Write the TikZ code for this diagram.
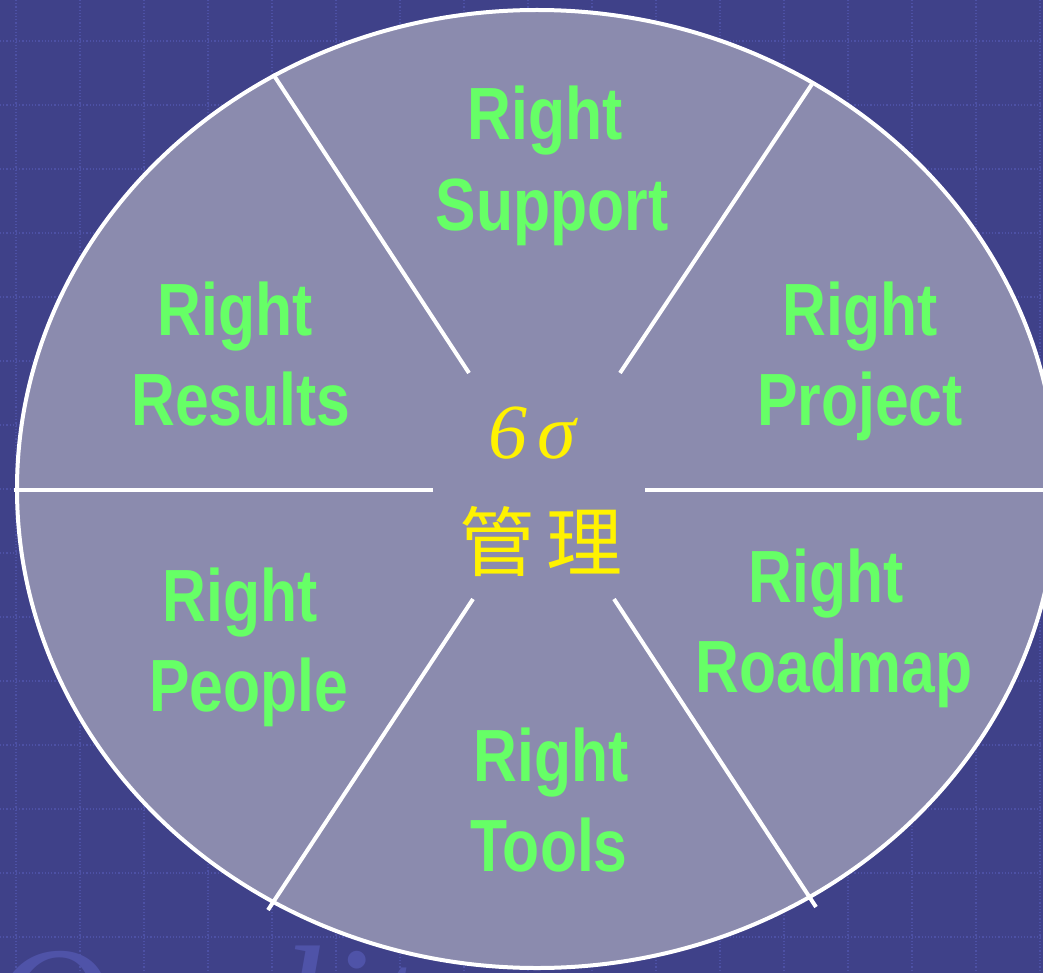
\documentclass[tikz,border=0pt]{standalone}
\usepackage{fontspec}
\newfontfamily\labelfont[FakeStretch=0.82]{Liberation Sans}
\newfontfamily\sigmafont{Liberation Serif}
\newfontfamily\cjk{Noto Sans CJK SC}
\definecolor{slidebg}{HTML}{3F4189}
\definecolor{gridline}{HTML}{4D51A5}
\definecolor{wheelfill}{HTML}{8B8BAE}
\definecolor{labelgreen}{HTML}{66FF66}
\definecolor{watermark}{HTML}{4F53A8}
\begin{document}
\begin{tikzpicture}[x=0.5pt,y=-0.5pt]
        \tikzset{spoke/.style={draw=white, line width=2pt},
                 label line/.style={text=labelgreen, inner sep=0pt, anchor=base,
                     font=\labelfont\bfseries\fontsize{37}{45}\selectfont}}

        \useasboundingbox (0,0) rectangle (1043,973);
        \clip (0,0) rectangle (1043,973);
        \fill[slidebg] (0,0) rectangle (1043,973);

        % background grid
        \foreach \gx in {16,80,...,1040}
            \draw[gridline, densely dotted, line width=0.6pt] (\gx,0) -- (\gx,973);
        \foreach \gy in {41,105,...,973}
            \draw[gridline, densely dotted, line width=0.6pt] (0,\gy) -- (1043,\gy);

        \node[anchor=base west, inner sep=0pt, text=watermark,
              font=\sigmafont\itshape\fontsize{84}{84}\selectfont]
            (mark) at (-12,1062) {Quality management};

        \filldraw[fill=wheelfill, draw=white, line width=2pt]
            (537,489) ellipse [x radius=520, y radius=479];

        \draw[spoke] (433,490) -- (14,490);
        \draw[spoke] (645,490) -- (1043,490);
        \draw[spoke] (469,373) -- (273,74);
        \draw[spoke] (620,373) -- (812,84);
        \draw[spoke] (473,599) -- (268,910);
        \draw[spoke] (614,599) -- (816,907);

        \node[label line] (supA) at (545,140) {Right};
        \node[label line] (supB) at (552,230) {Support};
        \node[label line] (resA) at (235,335) {Right};
        \node[label line] (resB) at (241,425) {Results};
        \node[label line] (proA) at (860,335) {Right};
        \node[label line] (proB) at (860,425) {Project};
        \node[label line] (peoA) at (240,621) {Right};
        \node[label line] (peoB) at (249,711) {People};
        \node[label line] (roaA) at (826,602) {Right};
        \node[label line] (roaB) at (834,692) {Roadmap};
        \node[label line] (tooA) at (551,781) {Right};
        \node[label line] (tooB) at (549,871) {Tools};

        \node[anchor=base, inner sep=0pt, text=yellow,
              font=\sigmafont\itshape\fontsize{39}{39}\selectfont]
            (sigma) at (532,458) {6\hspace{5pt}σ};
        \node[inner sep=0pt, text=yellow, font=\cjk\fontsize{38}{38}\selectfont]
            (mgmt) at (541,542) {管\hspace{6pt}理};
    \end{tikzpicture}
\end{document}
